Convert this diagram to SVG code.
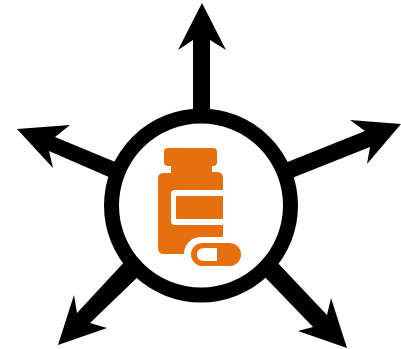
<svg xmlns="http://www.w3.org/2000/svg" width="401" height="349" viewBox="0 0 401 349">
<style>.a{fill:#000}.o{fill:#e5700e}.w{fill:#fff}</style>
<defs><filter id="s" x="-5%" y="-5%" width="110%" height="110%"><feGaussianBlur stdDeviation="0.5"/></filter></defs>
<rect width="401" height="349" fill="#fff"/>
<g id="connectors" class="a" filter="url(#s)">
<polygon points="202,3 226,50 210,40 210,120 193,120 193,40 178,50"/>
<polygon points="401,124 350,120 365,131 280,165 287,180 370,147 367,164"/>
<polygon points="347,348 331,298 327,315 275,260 260,272 313,327 298,331"/>
<polygon points="58,345 74,295 77,313 128,258 143,272 90,323 107,328"/>
<polygon points="17,129 70,125 55,137 125,166 118,181 49,151 53,168"/>
</g>
<g id="hub" filter="url(#s)"><circle cx="201" cy="205.500" r="89.500" fill="#fff" stroke="#000" stroke-width="15"/></g>
<g id="bottle" filter="url(#s)">
<path class="o" d="M168,148H213Q217,148 217,152V162Q217,166 213,166H212V172H217Q223,172 223,178V254H188Q186,254 182,254H164Q158,254 158,248V178Q158,173 164,173H171V166H168Q164,166 164,162V152Q164,148 168,148Z"/>
<path class="w" d="M223,190H175Q171,190 171,194V221Q171,225 175,225H223V219H176V196H223Z"/>
<rect class="w" x="184" y="237" width="62" height="34" rx="17"/>
<rect class="o" x="191" y="243" width="50" height="23" rx="11.500"/>
<path class="w" d="M217,248H204Q197,248 197,254.500Q197,261 204,261H217Z"/>
</g>
</svg>
